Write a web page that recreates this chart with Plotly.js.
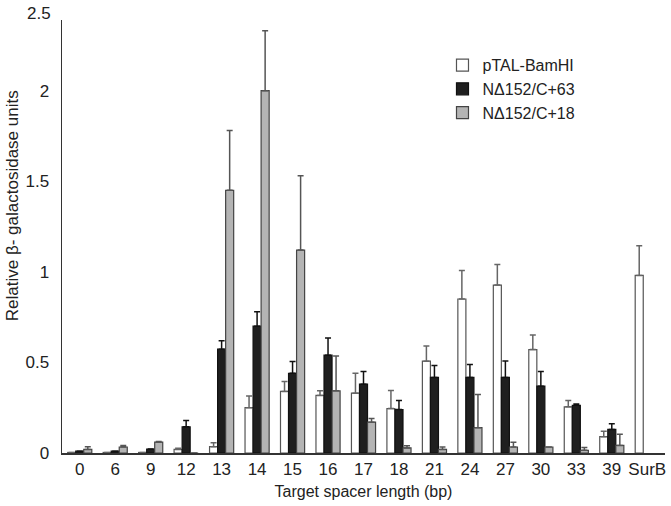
<!DOCTYPE html>
<html>
<head>
<meta charset="utf-8">
<script src="https://cdn.plot.ly/plotly-3.0.1.min.js"></script>
<style>html,body{margin:0;padding:0;background:#fff}</style>
</head>
<body>
<div id="chart" style="width:671px;height:506px"></div>
<script>
const categories = ["0","6","9","12","13","14","15","16","17","18","21","24","27","30","33","39","SurB"];

const ptalValues = [0.003,0.003,0.003,0.02,0.035,0.25,0.34,0.318,0.33,0.245,0.507,0.85,0.927,0.571,0.255,0.09,0.98];
const ptalErrors = [0,0,0,0.006,0.022,0.065,0.055,0.025,0.11,0.10,0.083,0.157,0.113,0.081,0.035,0.03,0.164];

const n63Values = [0.01,0.01,0.022,0.145,0.573,0.70,0.44,0.54,0.38,0.24,0.417,0.417,0.417,0.369,0.263,0.13,null];
const n63Errors = [0,0,0,0.035,0.047,0.08,0.065,0.095,0.07,0.05,0.066,0.071,0.091,0.081,0.007,0.032,null];

const n18Values = [0.02,0.033,0.06,0,1.45,2.0,1.12,0.343,0.17,0.028,0.02,0.14,0.033,0.033,0.015,0.042,null];
const n18Errors = [0.015,0.009,0.004,0,0.33,0.33,0.41,0.192,0.02,0.012,0.013,0.183,0.026,0,0.015,0.061,null];

const seriesNames = ["pTAL-BamHI","N\u0394152/C+63","N\u0394152/C+18"];
const yTickVals = [0,0.5,1,1.5,2];
const yTickText = ["0","0.5","1","1.5","2"];
const yTopLabel = "2.5";
const yTitle = "Relative \u03b2- galactosidase units";

function zeros(a){ return a.map(v => v === null ? null : 0); }

function barTrace(name, vals, errs, fill, edge, errColor){
  return {
    type: "bar", name: name, x: categories, y: vals,
    marker: {color: fill, line: {color: edge, width: 1.2}},
    error_y: {type: "data", symmetric: false, array: errs, arrayminus: zeros(errs),
              color: errColor, thickness: 1.5, width: 3}
  };
}

const data = [
  barTrace(seriesNames[0], ptalValues, ptalErrors, "#ffffff", "#555555", "#666666"),
  barTrace(seriesNames[1], n63Values, n63Errors, "#1f1f1f", "#111111", "#111111"),
  barTrace(seriesNames[2], n18Values, n18Errors, "#b4b4b4", "#444444", "#555555")
];

const fam = "Liberation Sans, Arial, sans-serif";
const txt = "#222";

const layout = {
  width: 671, height: 506,
  margin: {l: 62, r: 6, t: 20, b: 53},
  paper_bgcolor: "#fff", plot_bgcolor: "#fff",
  font: {family: fam, size: 16, color: txt},
  barmode: "group", bargap: 0.32, bargroupgap: 0,
  showlegend: true,
  legend: {x: 0.631, y: 0.935, xanchor: "left", yanchor: "top",
           font: {family: fam, size: 16, color: txt},
           bgcolor: "rgba(0,0,0,0)", tracegroupgap: 0},
  xaxis: {
    type: "category", showline: true, linecolor: "#333", linewidth: 1.5,
    ticks: "", showgrid: false, zeroline: false,
    tickfont: {family: fam, size: 17, color: txt},
    title: {text: "Target spacer length (bp)", font: {family: fam, size: 16, color: txt}, standoff: 8}
  },
  yaxis: {
    range: [0, 2.39], showline: true, linecolor: "#333", linewidth: 1.5,
    ticks: "", showgrid: false, zeroline: false,
    tickvals: yTickVals, ticktext: yTickText,
    ticklabelstandoff: 8,
    tickfont: {family: fam, size: 17, color: txt}
  },
  annotations: [{
    xref: "paper", yref: "paper", x: 0, y: 1, xanchor: "right", yanchor: "middle",
    xshift: -9, yshift: 7, text: yTopLabel, showarrow: false,
    font: {family: fam, size: 17, color: txt}
  }, {
    xref: "paper", yref: "paper", x: 0, y: 0.57, xanchor: "center", yanchor: "middle",
    xshift: -50, text: yTitle, textangle: -90, showarrow: false,
    font: {family: fam, size: 17, color: txt}
  }]
};

Plotly.newPlot("chart", data, layout, {displayModeBar: false, staticPlot: true});
</script>
</body>
</html>
